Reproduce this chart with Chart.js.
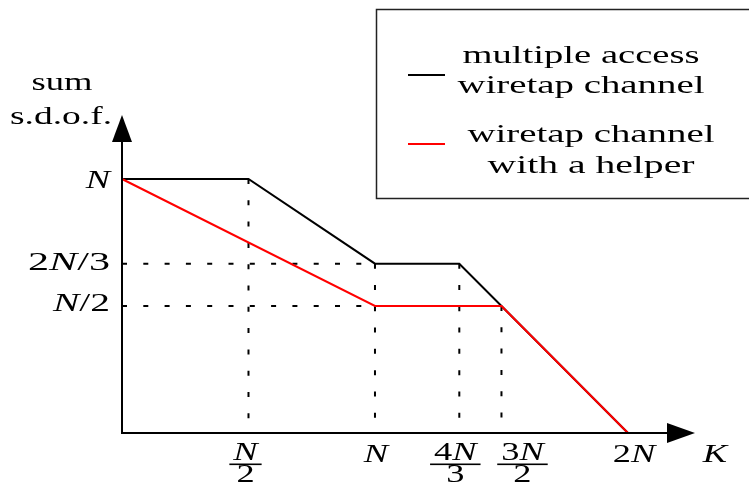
<!DOCTYPE html>
<html><head><meta charset="utf-8">
<script src="https://cdn.jsdelivr.net/npm/chart.js@4"></script>
<style>html,body{margin:0;padding:0;background:#fff}#wrap{width:749px;height:485px}</style>
</head><body><div id="wrap"><canvas id="c" width="749" height="485"></canvas></div>
<script>
// ---- data (K and s.d.o.f. in units of N) ----
const seriesNames = ['multiple access\nwiretap channel', 'wiretap channel\nwith a helper'];
const macK = [0, 0.5, 1, 4/3, 1.5, 2];
const macSdof = [1, 1, 2/3, 2/3, 0.5, 0];
const helperK = [0, 1, 1.5, 2];
const helperSdof = [1, 0.5, 0.5, 0];
const xTickValues = [0.5, 1, 4/3, 1.5, 2];
const xTickLabels = [['N','2'], 'N', ['4N','3'], ['3N','2'], '2N'];
const yTickValues = [1, 2/3, 0.5];
const yTickLabels = ['N', '2N/3', 'N/2'];
const xTitle = 'K';
const yTitle = ['sum', 's.d.o.f.'];
const vGuideK = [0.5, 1, 4/3, 1.5];
const vGuideTop = [1, 2/3, 2/3, 0.5];
const hGuideSdof = [2/3, 0.5];
const hGuideEnd = [1, 1];

// ---- styles ----
const FONT = '26px "Liberation Serif"';
const FONT_IT = 'italic 26px "Liberation Serif"';
const SX = 1.4;
const xLabelDx = [-3, 1, -4, 21, 6];
const yLabelDy = [9, 6, 5];
const yLabelW = [null, 82, 57];
const legendText = [
  [{t:'multiple access', cx:581, y:63, w:237}, {t:'wiretap channel', cx:581, y:93, w:247}],
  [{t:'wiretap channel', cx:591, y:142, w:247}, {t:'with a helper', cx:591, y:173, w:207}]
];
const legendLineY = [75, 144];

function pt(xs, ys){ return xs.map((x,i)=>({x:x, y:ys[i]})); }

const datasets = [];
datasets.push({label: seriesNames[1], data: pt(helperK, helperSdof), borderColor:'#ff0000', borderWidth:2, order:0});
datasets.push({label: seriesNames[0], data: pt(macK, macSdof), borderColor:'#000000', borderWidth:2, order:1});
vGuideK.forEach((k,i)=>datasets.push({label:'guide', data:[{x:k,y:vGuideTop[i]},{x:k,y:0}], borderColor:'#000', borderWidth:2, borderDash:[5,16.3], order:2, guide:true}));
hGuideSdof.forEach((s,i)=>datasets.push({label:'guide', data:[{x:0,y:s},{x:hGuideEnd[i],y:s}], borderColor:'#000', borderWidth:2, borderDash:[5,16.3], order:2, guide:true}));
datasets.forEach(d=>{d.showLine=true; d.pointRadius=0; d.tension=0; d.fill=false; d.clip=false; d.borderCapStyle='butt';});

function runs(str, math){
  const out=[];
  for (const ch of str){
    const it = math && /[A-Za-z]/.test(ch);
    if (out.length && out[out.length-1].it===it) out[out.length-1].t+=ch; else out.push({t:ch,it:it});
  }
  return out;
}
function drawText(ctx, str, x, y, align, opts){
  opts = opts||{};
  const rs = runs(str, opts.math);
  let w=0; rs.forEach(r=>{ctx.font=r.it?FONT_IT:FONT; r.w=ctx.measureText(r.t).width; w+=r.w;});
  const sx = opts.width ? opts.width/w : SX;
  const tw = w*sx;
  let left = align==='center' ? x-tw/2 : (align==='right' ? x-tw : x);
  ctx.save(); ctx.translate(left, y); ctx.scale(sx,1);
  ctx.fillStyle='#000'; ctx.textBaseline='alphabetic'; ctx.textAlign='left';
  let cx=0; rs.forEach(r=>{ctx.font=r.it?FONT_IT:FONT; ctx.fillText(r.t,cx,0); cx+=r.w;});
  ctx.restore();
  return tw;
}

const decor = {
  id:'decor',
  afterDatasetsDraw(chart){
    const ctx=chart.ctx, xs=chart.scales.x, ys=chart.scales.y;
    const x0=xs.getPixelForValue(0), y0=ys.getPixelForValue(0);
    const xEnd=chart.chartArea.right, yEnd=chart.chartArea.top;
    ctx.save();
    ctx.strokeStyle='#000'; ctx.fillStyle='#000'; ctx.lineWidth=2;
    ctx.beginPath(); ctx.moveTo(x0, y0); ctx.lineTo(xEnd-27, y0); ctx.stroke();
    ctx.beginPath(); ctx.moveTo(x0, y0+1); ctx.lineTo(x0, yEnd+26); ctx.stroke();
    ctx.beginPath(); ctx.moveTo(xEnd, y0); ctx.lineTo(xEnd-28, y0-10); ctx.lineTo(xEnd-28, y0+10); ctx.closePath(); ctx.fill();
    ctx.beginPath(); ctx.moveTo(x0, yEnd); ctx.lineTo(x0-10, yEnd+27); ctx.lineTo(x0+10, yEnd+27); ctx.closePath(); ctx.fill();
    // y tick labels
    yTickValues.forEach((v,i)=>{ drawText(ctx, yTickLabels[i], x0-12, ys.getPixelForValue(v)+yLabelDy[i], 'right', {math:true, width:yLabelW[i]}); });
    // x tick labels
    xTickValues.forEach((v,i)=>{
      const px = xs.getPixelForValue(v)+xLabelDx[i];
      const lab = xTickLabels[i];
      if (Array.isArray(lab)){
        const w1 = drawText(ctx, lab[0], px, 460, 'center', {math:true});
        const w2 = drawText(ctx, lab[1], px, 482, 'center', {math:true});
        const bw = Math.max(w1,w2)+8;
        ctx.fillRect(px-bw/2, 463.5, bw, 1.6);
      } else {
        drawText(ctx, lab, px, 462, 'center', {math:true});
      }
    });
    drawText(ctx, xTitle, 715, 462, 'center', {math:true});
    drawText(ctx, yTitle[0], 62, 90, 'center', {width:61});
    drawText(ctx, yTitle[1], 61, 124, 'center', {width:102});
    // legend
    ctx.lineWidth=1.5; ctx.strokeStyle='#222';
    ctx.strokeRect(376.5, 9.5, 380, 189);
    const series = chart.data.datasets.filter(d=>!d.guide);
    seriesNames.forEach((name,i)=>{
      const ds = series.find(d=>d.label===name);
      ctx.strokeStyle = ds.borderColor; ctx.lineWidth=2;
      ctx.beginPath(); ctx.moveTo(408, legendLineY[i]); ctx.lineTo(445, legendLineY[i]); ctx.stroke();
      name.split('\n').forEach((line,j)=>{
        const s = legendText[i][j];
        drawText(ctx, line, s.cx, s.y, 'center', {width:s.w});
      });
    });
    ctx.restore();
  }
};

new Chart(document.getElementById('c'), {
  type:'scatter',
  data:{datasets:datasets},
  options:{
    responsive:false, animation:false, devicePixelRatio:1,
    layout:{padding:{left:122, right:54, top:115, bottom:52}},
    scales:{
      x:{type:'linear', min:0, max:2.265, display:false},
      y:{type:'linear', min:0, max:1.252, display:false}
    },
    plugins:{legend:{display:false}, tooltip:{enabled:false}}
  },
  plugins:[decor]
});
</script></body></html>
